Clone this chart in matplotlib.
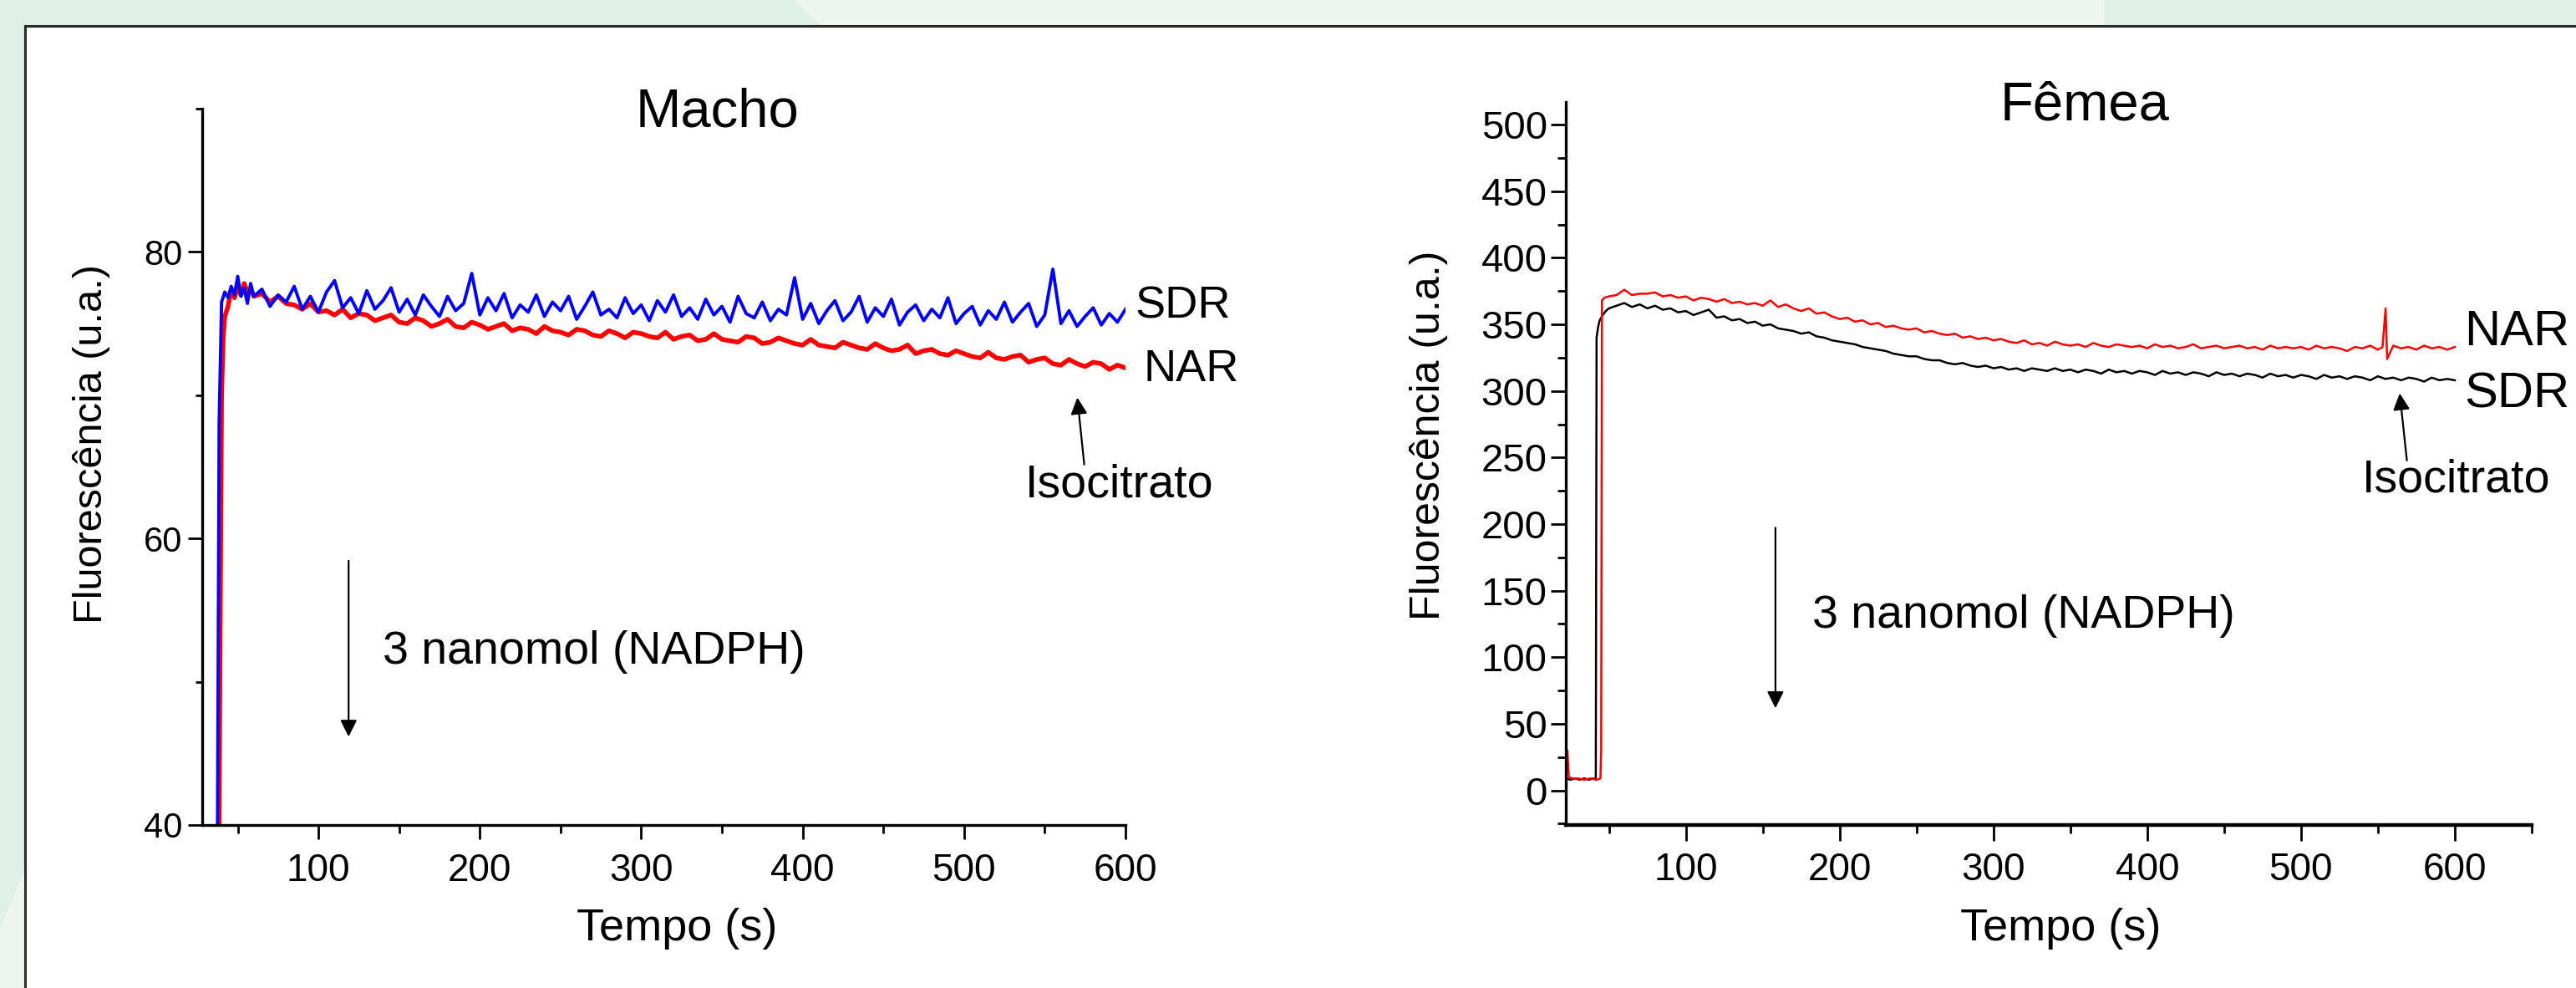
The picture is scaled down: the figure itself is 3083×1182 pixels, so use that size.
import numpy as np
import matplotlib
matplotlib.use('Agg')
import matplotlib.pyplot as plt
from matplotlib.patches import Polygon, Rectangle
from matplotlib.ticker import MultipleLocator

plt.rcParams['font.family'] = ['Liberation Sans', 'DejaVu Sans']

# ---- Macho (left panel) ----
t_macho_start_sdr = [36, 37.5, 38.5, 40, 42, 44, 46, 48, 50, 52, 54, 56, 58, 60]
sdr_macho_start = [38, 40, 68, 76.5, 77.2, 76.8, 77.6, 77.0, 78.3, 76.9, 77.5, 76.4, 77.8, 76.9]
t_macho_start_nar = [37.5, 38.5, 39.2, 40, 41, 42, 44, 46, 48, 50, 52, 54, 56, 58, 60]
nar_macho_start = [38, 40, 55, 70, 74, 75.5, 76.2, 77.4, 76.8, 77.6, 77.0, 77.8, 77.2, 77.4, 76.9]
t_macho = np.arange(65, 601, 5)
sdr_macho = [77.4, 76.2, 77.0, 76.5, 77.6, 76.0, 76.9, 75.8, 77.2, 78.0,
             76.1, 76.8, 75.7, 77.3, 76.0, 76.6, 77.5, 75.8, 76.7, 75.6,
             77.0, 76.2, 75.5, 76.9, 75.9, 76.4, 78.5, 75.6, 76.8, 75.9,
             77.1, 75.4, 76.3, 75.8, 77.0, 75.5, 76.5, 75.9, 76.9, 75.3,
             76.2, 77.2, 75.6, 76.0, 75.4, 76.8, 75.7, 76.3, 75.2, 76.6,
             75.8, 77.0, 75.5, 76.1, 75.3, 76.7, 75.6, 76.2, 75.1, 76.9,
             75.7, 75.4, 76.5, 75.2, 76.0, 75.6, 78.2, 75.3, 76.4, 75.0,
             75.9, 76.6, 75.2, 75.8, 76.9, 75.1, 76.1, 75.5, 76.7, 74.9,
             75.8, 76.3, 75.2, 76.0, 75.4, 76.8, 75.0, 75.7, 76.2, 74.9,
             75.9, 75.3, 76.5, 75.1, 75.8, 76.4, 74.8, 75.6, 78.8, 75.0,
             75.9, 74.8, 75.5, 76.1, 74.9, 75.7, 75.1, 76.0]
nar_macho = [77.1, 76.5, 76.9, 76.4, 76.3, 76.0, 76.4, 75.8, 75.9, 75.6,
             76.0, 75.4, 75.7, 75.6, 75.2, 75.4, 75.6, 75.1, 75.0, 75.4,
             75.2, 74.8, 75.0, 75.3, 74.8, 74.7, 75.1, 74.9, 74.6, 74.8,
             75.0, 74.5, 74.7, 74.6, 74.3, 74.8, 74.5, 74.4, 74.2, 74.6,
             74.5, 74.2, 74.1, 74.5, 74.3, 74.0, 74.4, 74.3, 74.1, 74.0,
             74.4, 73.9, 74.1, 74.2, 73.8, 73.9, 74.3, 73.9, 73.8, 73.7,
             74.1, 74.0, 73.6, 73.7, 74.0, 73.8, 73.6, 73.5, 73.9, 73.5,
             73.4, 73.3, 73.7, 73.5, 73.3, 73.2, 73.6, 73.3, 73.1, 73.2,
             73.5, 72.9, 73.1, 73.2, 72.9, 72.8, 73.1, 72.9, 72.7, 72.6,
             73.0, 72.6, 72.5, 72.7, 72.8, 72.3, 72.5, 72.6, 72.2, 72.1,
             72.5, 72.2, 72.0, 72.3, 72.2, 71.8, 72.1, 71.9]

# ---- Femea (right panel) ----
t_femea_start_sdr = [22, 25, 28, 31, 34, 37, 40, 41.5, 42, 43, 44, 46, 48]
sdr_femea_start = [9, 8, 9, 8, 9, 8, 9, 8, 340, 348, 353, 357, 360]
t_femea_start_nar = [22, 23, 24, 26, 30, 34, 38, 42, 44.5, 45, 45.5, 47]
nar_femea_start = [10, 30, 10, 9, 9, 8, 9, 8, 9, 30, 368, 370]
t_femea = np.arange(50, 601, 5)
sdr_femea = [362, 364, 366, 363, 365, 362, 364, 361, 362, 359,
             360, 357, 359, 361, 355, 356, 353, 354, 351, 352,
             349, 350, 347, 346, 345, 343, 344, 341, 340, 338,
             337, 336, 335, 333, 332, 331, 330, 328, 327, 326,
             326, 324, 323, 323, 321, 320, 321, 319, 318, 319,
             317, 318, 316, 317, 315, 317, 316, 315, 317, 315,
             316, 314, 316, 315, 313, 316, 314, 315, 313, 315,
             314, 312, 315, 313, 314, 312, 314, 313, 311, 314,
             312, 313, 311, 313, 312, 310, 313, 311, 312, 310,
             312, 311, 309, 312, 310, 311, 309, 311, 310, 308,
             311, 309, 310, 308, 310, 309, 307, 310, 308, 309, 308]
nar_femea = [371, 372, 376, 372, 373, 373, 374, 371, 372, 370,
             371, 368, 370, 369, 367, 369, 366, 367, 365, 366,
             364, 368, 363, 365, 362, 360, 362, 358, 359, 356,
             354, 355, 352, 353, 350, 351, 348, 349, 347, 346,
             347, 344, 345, 343, 342, 343, 340, 341, 339, 340,
             338, 339, 337, 336, 338, 335, 336, 334, 337, 335,
             334, 335, 333, 336, 334, 333, 335, 334, 333, 334,
             332, 335, 333, 334, 332, 333, 335, 332, 333, 334,
             332, 333, 334, 332, 333, 331, 334, 332, 333, 332,
             333, 331, 334, 332, 333, 332, 330, 333, 332, 334,
             331, 362, 334, 332, 333, 331, 334, 332, 333, 331, 333]
t_nar_spike = [553, 556]
nar_spike = [333, 324]

ts = np.concatenate([t_femea, t_nar_spike])
vs = np.concatenate([nar_femea, nar_spike])
order = np.argsort(ts)
t_nar_f = np.concatenate([t_femea_start_nar, ts[order]])
v_nar_f = np.concatenate([nar_femea_start, vs[order]])

W, H = 3083, 1182
fig = plt.figure(figsize=(W / 100, H / 100), dpi=100)
fig.patch.set_facecolor('#dff0e6')


def px(x, y):
    return (x / W, 1 - y / H)


# decorative background (drawn below the axes)
fig.add_artist(Polygon([px(951, 0), px(2519, 0), px(2519, 31), px(982, 31)],
                       closed=True, transform=fig.transFigure, facecolor='#eef5f0',
                       edgecolor='none', zorder=-3))
fig.add_artist(Polygon([px(0, 1182), px(0, 1110), px(30, 1040), px(30, 1182)],
                       closed=True, transform=fig.transFigure, facecolor='#eef5f0',
                       edgecolor='none', zorder=-3))
fig.add_artist(Rectangle(px(30, 1190), (W + 20) / W, (1190 - 31) / H, transform=fig.transFigure,
                         facecolor='white', edgecolor='#2b2b2b', linewidth=2.2, zorder=-2))

tick_font = 33

# left panel
ax1 = fig.add_axes([242 / W, (H - 987) / H, 1105 / W, (987 - 130) / H])
ax1.plot(np.concatenate([t_macho_start_nar, t_macho]), np.concatenate([nar_macho_start, nar_macho]),
         color='#ff0000', linewidth=4.0)
ax1.plot(np.concatenate([t_macho_start_sdr, t_macho]), np.concatenate([sdr_macho_start, sdr_macho]),
         color='#0000ff', linewidth=2.8)
ax1.set_xlim(28, 600)
ax1.set_ylim(40, 90)
ax1.xaxis.set_major_locator(MultipleLocator(100))
ax1.xaxis.set_minor_locator(MultipleLocator(50))
ax1.yaxis.set_major_locator(MultipleLocator(20))
ax1.yaxis.set_minor_locator(MultipleLocator(10))
ax1.tick_params(axis='x', which='major', length=12, width=2, labelsize=tick_font, pad=12)
ax1.tick_params(axis='x', which='minor', length=7, width=2)
ax1.tick_params(axis='y', which='major', length=12, width=2, labelsize=30, pad=5)
ax1.tick_params(axis='y', which='minor', length=6, width=2)
for s in ['top', 'right']:
    ax1.spines[s].set_visible(False)
for s in ['left', 'bottom']:
    ax1.spines[s].set_linewidth(2.4)
ax1.set_facecolor('none')

ax1.annotate('', xy=(118.7, 46.0), xytext=(118.7, 58.6),
             arrowprops=dict(arrowstyle='-|>', color='black', lw=1.6, mutation_scale=30))
ax1.text(140, 52.1, '3 nanomol (NADPH)', fontsize=40, va='center', ha='left')
ax1.annotate('', xy=(570, 70.0), xytext=(574.6, 65.0),
             arrowprops=dict(arrowstyle='-|>', color='black', lw=1.6, mutation_scale=30))
ax1.text(596, 63.7, 'Isocitrato', fontsize=40, va='center', ha='center')
ax1.text(605.7, 76.2, 'SDR', fontsize=39, va='center', ha='left', clip_on=False)
ax1.text(611, 71.8, 'NAR', fontsize=39, va='center', ha='left', clip_on=False)

# right panel
ax2 = fig.add_axes([1874 / W, (H - 987) / H, 1156 / W, (987 - 122) / H])
ax2.plot(np.concatenate([t_femea_start_sdr, t_femea]), np.concatenate([sdr_femea_start, sdr_femea]),
         color='black', linewidth=1.8)
ax2.plot(t_nar_f, v_nar_f, color='#ff0000', linewidth=1.8)
ax2.set_xlim(22, 650)
ax2.set_ylim(-26, 517)
ax2.xaxis.set_major_locator(MultipleLocator(100))
ax2.xaxis.set_minor_locator(MultipleLocator(50))
ax2.yaxis.set_major_locator(MultipleLocator(50))
ax2.yaxis.set_minor_locator(MultipleLocator(25))
ax2.set_yticks(np.arange(0, 501, 50))
ax2.tick_params(axis='x', which='major', length=14, width=2, labelsize=tick_font, pad=9)
ax2.tick_params(axis='x', which='minor', length=7, width=2)
ax2.tick_params(axis='y', which='major', length=13, width=2, labelsize=34, pad=3)
ax2.tick_params(axis='y', which='minor', length=7, width=2)
for s in ['top', 'right']:
    ax2.spines[s].set_visible(False)
ax2.spines['left'].set_linewidth(2.4)
ax2.spines['bottom'].set_linewidth(3.2)
ax2.set_facecolor('none')

ax2.annotate('', xy=(158.3, 60), xytext=(158.3, 199),
             arrowprops=dict(arrowstyle='-|>', color='black', lw=1.6, mutation_scale=30))
ax2.text(182, 131, '3 nanomol (NADPH)', fontsize=40, va='center', ha='left')
ax2.annotate('', xy=(564, 300), xytext=(569, 246),
             arrowprops=dict(arrowstyle='-|>', color='black', lw=1.6, mutation_scale=30))
ax2.text(601, 233, 'Isocitrato', fontsize=40, va='center', ha='center', clip_on=False)
ax2.text(606, 344, 'NAR', fontsize=43, va='center', ha='left', clip_on=False)
ax2.text(606, 297, 'SDR', fontsize=43, va='center', ha='left', clip_on=False)

# titles and axis labels
fig.text(*px(859, 134), 'Macho', fontsize=47, ha='center', va='center')
fig.text(*px(2495, 126), 'Fêmea', fontsize=47, ha='center', va='center')
fig.text(*px(110, 531), 'Fluorescência (u.a.)', fontsize=35, rotation=90, ha='center', va='center')
fig.text(*px(1710, 521), 'Fluorescência (u.a.)', fontsize=36, rotation=90, ha='center', va='center')
fig.text(*px(810, 1111), 'Tempo (s)', fontsize=39, ha='center', va='center')
fig.text(*px(2466, 1111), 'Tempo (s)', fontsize=39, ha='center', va='center')

fig.savefig('out.png', dpi=100, facecolor=fig.get_facecolor())
